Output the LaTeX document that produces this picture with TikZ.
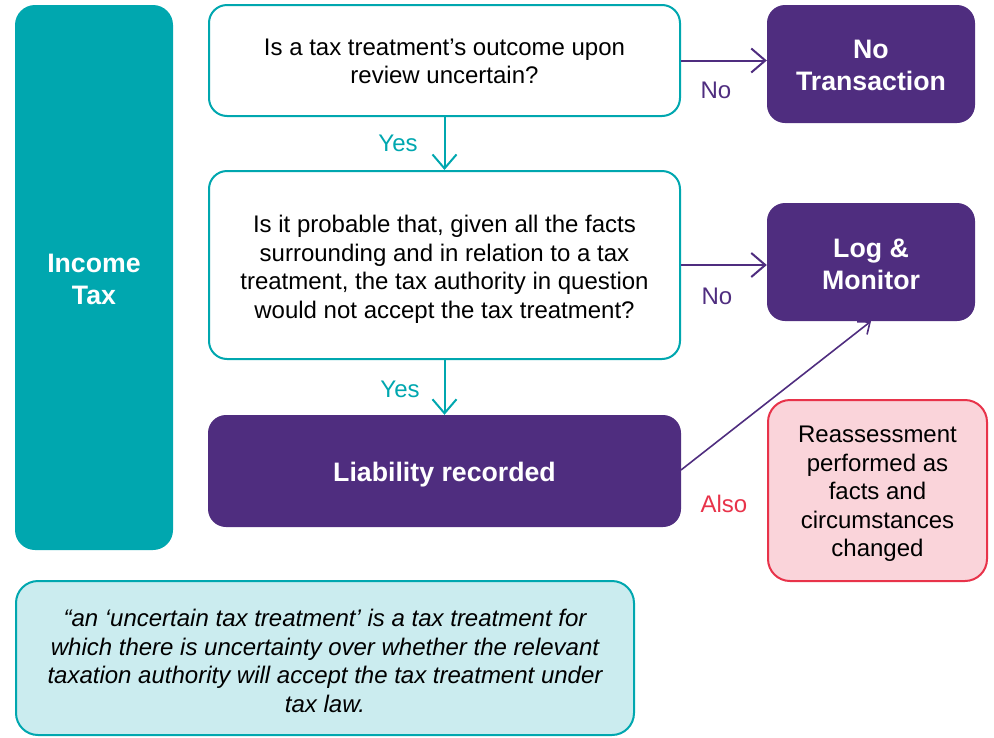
\documentclass[tikz,border=0pt]{standalone}
\usepackage{fontspec}
\setmainfont{Liberation Sans}
\usetikzlibrary{arrows.meta}
\definecolor{teal1}{HTML}{00A7AF}
\definecolor{purp}{HTML}{4F2D7F}
\definecolor{redb}{HTML}{E8334A}
\definecolor{pinkf}{HTML}{FAD4DA}
\definecolor{ltteal}{HTML}{CBECEF}
\tikzset{
  reg/.style={font=\fontsize{24}{28.5}\selectfont},
  bld/.style={font=\fontsize{26.7}{32}\selectfont\bfseries},
  qbox/.style={draw=teal1, line width=2pt, fill=white, rounded corners=18pt},
  pbox/.style={fill=purp, rounded corners=18pt},
  qtxt/.style={align=center, reg, text=black, inner sep=0pt},
  ptxt/.style={align=center, bld, text=white, inner sep=0pt},
  tarr/.style={draw=teal1, line width=2pt, -{Straight Barb[length=14pt,width=24pt,line width=2pt]}},
  parr/.style={draw=purp, line width=2pt, -{Straight Barb[length=14pt,width=24pt,line width=2pt]}},
  darr/.style={draw=purp, line width=1.6pt, -{Straight Barb[length=10pt,width=16pt,line width=1.6pt]}},
  lbl/.style={reg, inner sep=0pt}
}
\begin{document}
\begin{tikzpicture}[x=1pt,y=-1pt]
\useasboundingbox (0,0) rectangle (994,737);
\node[fill=teal1, rounded corners=20pt, minimum width=158pt, minimum height=545pt] (inc) at (94,277.5) {};
\node[ptxt] (inct) at ([yshift=-2pt]inc.center) {Income\\Tax};
\node[qbox, minimum width=471pt, minimum height=111pt] (q1) at (444.5,60.5) {};
\node[qtxt] (q1t) at ([yshift=-1pt]q1.center) {Is a tax treatment’s outcome upon\\review uncertain?};
\node[pbox, minimum width=208pt, minimum height=118pt] (nt) at (871,64) {};
\node[ptxt] (ntt) at ([yshift=-1.5pt]nt.center) {No\\Transaction};
\node[qbox, minimum width=471pt, minimum height=188pt] (q2) at (444.5,265) {};
\node[qtxt] (q2t) at ([yshift=-4.5pt]q2.center) {Is it probable that, given all the facts\\surrounding and in relation to a tax\\treatment, the tax authority in question\\would not accept the tax treatment?};
\node[pbox, minimum width=208pt, minimum height=118pt] (lm) at (871,262) {};
\node[ptxt] (lmt) at ([yshift=-2pt]lm.center) {Log \&\\Monitor};
\node[pbox, minimum width=473pt, minimum height=112pt] (lr) at (444.5,471) {};
\node[ptxt] (lrt) at ([yshift=-4pt]lr.center) {Liability recorded};
\node[draw=redb, line width=2pt, fill=pinkf, rounded corners=22pt, minimum width=219pt, minimum height=181pt] (re) at (877.5,490.5) {};
\node[qtxt] (ret) at ([yshift=-3.5pt]re.center) {Reassessment\\performed as\\facts and\\circumstances\\changed};
\node[draw=teal1, line width=2pt, fill=ltteal, rounded corners=22pt, minimum width=618pt, minimum height=154pt] (df) at (325,658) {};
\node[qtxt, font=\fontsize{24}{28.5}\selectfont\itshape] (dft) at ([yshift=-3pt]df.center) {“an ‘uncertain tax treatment’ is a tax treatment for\\which there is uncertainty over whether the relevant\\taxation authority will accept the tax treatment under\\tax law.};
\draw[parr] (q1.east) -- (q1.east -| nt.west);
\draw[parr] (q2.east) -- (q2.east -| lm.west);
\draw[tarr] (q1.south) -- (q2.north);
\draw[tarr] (q2.south) -- (lr.north);
\coordinate (lre) at (681,470);
\draw[darr] (lre) -- (lm.south);
\node[lbl, text=purp] (no1) at (716,90) {No};
\node[lbl, text=purp] (no2) at (717,296) {No};
\node[lbl, text=teal1] (yes1) at (398,143) {Yes};
\node[lbl, text=teal1] (yes2) at (400,389) {Yes};
\node[lbl, text=redb] (also) at (724,504) {Also};
\end{tikzpicture}
\end{document}
